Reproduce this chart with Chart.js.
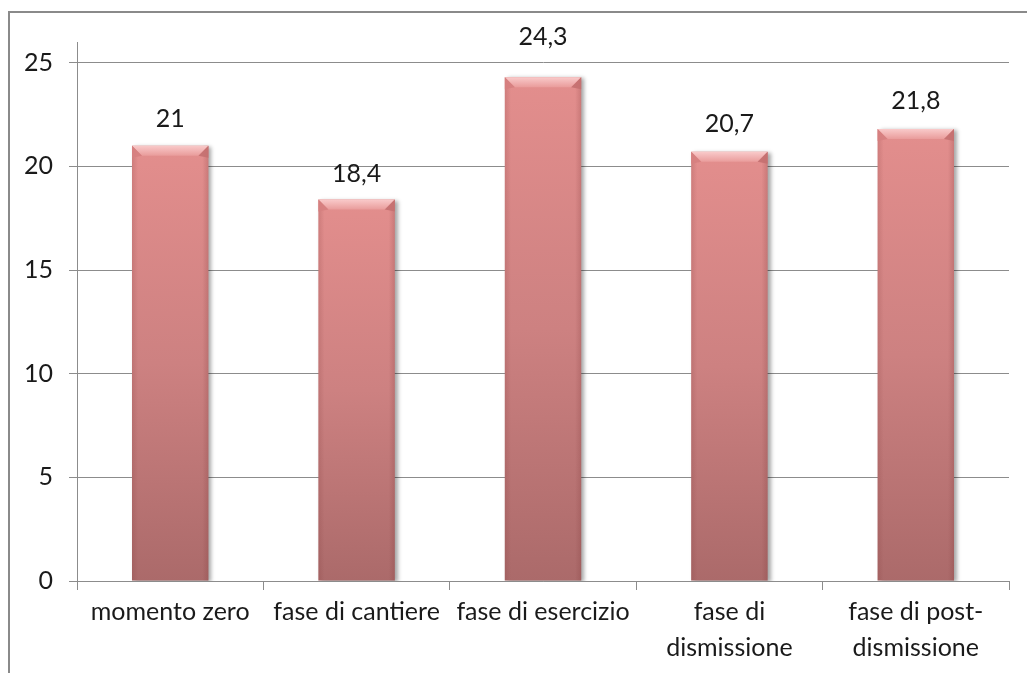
<!DOCTYPE html>
<html lang="it">
<head>
    <meta charset="UTF-8">
    <title>Grafico fasi</title>
    <script src="https://cdn.jsdelivr.net/npm/chart.js"></script>
    <style>
        html, body { margin: 0; padding: 0; background: #fff; }
        #wrap { width: 1027px; height: 673px; }
    </style>
</head>
<body>
    <div id="wrap"><canvas id="phaseChart"></canvas></div>

    <script>
        // Data
        const categories = [
            "momento zero",
            "fase di cantiere",
            "fase di esercizio",
            ["fase di", "dismissione"],
            ["fase di post-", "dismissione"]
        ];
        const values = [21, 18.4, 24.3, 20.7, 21.8];
        const valueLabels = ["21", "18,4", "24,3", "20,7", "21,8"];
        const yTicks = [0, 5, 10, 15, 20, 25];

        const FONT = "Lato, 'Open Sans', sans-serif";
        const GRID = "#8c8c8c";

        // per-bar vertical gradient, light on top, darker at the base
        function barFill(c) {
            const chart = c.chart;
            const y = chart.scales.y;
            if (!y) return "#d08080";
            const top = y.getPixelForValue(c.raw);
            const base = y.getPixelForValue(0);
            if (!isFinite(top) || !isFinite(base)) return "#d08080";
            const g = chart.ctx.createLinearGradient(0, top, 0, base);
            g.addColorStop(0, "#e38e8d");
            g.addColorStop(0.5, "#cd8181");
            g.addColorStop(1, "#ab6a6a");
            return g;
        }

        const framePlugin = {
            id: "frame",
            beforeDraw(chart) {
                const ctx = chart.ctx;
                ctx.save();
                ctx.strokeStyle = "#8a8a8a";
                ctx.lineWidth = 2;
                ctx.strokeRect(9, 12, chart.width + 40, chart.height + 40);
                ctx.restore();
            }
        };

        const barLook = {
            id: "barLook",
            beforeDatasetsDraw(chart) {
                const ctx = chart.ctx;
                ctx.save();
                ctx.shadowColor = "rgba(0,0,0,0.35)";
                ctx.shadowBlur = 4;
                ctx.shadowOffsetX = 3;
                ctx.shadowOffsetY = 1;
            },
            afterDatasetsDraw(chart, args, opts) {
                const ctx = chart.ctx;
                ctx.restore();
                const meta = chart.getDatasetMeta(0);
                meta.data.forEach((bar, i) => {
                    const l = bar.x - bar.width / 2;
                    const r = bar.x + bar.width / 2;
                    const t = bar.y;
                    const b = bar.base;
                    const bev = 10;

                    // side shading
                    ctx.save();
                    let sg = ctx.createLinearGradient(l, 0, r, 0);
                    sg.addColorStop(0, "rgba(120,50,50,0.18)");
                    sg.addColorStop(0.08, "rgba(120,50,50,0)");
                    sg.addColorStop(0.92, "rgba(120,50,50,0)");
                    sg.addColorStop(1, "rgba(120,50,50,0.22)");
                    ctx.fillStyle = sg;
                    ctx.fillRect(l, t, r - l, b - t);

                    // top bevel
                    ctx.beginPath();
                    ctx.moveTo(l, t);
                    ctx.lineTo(r, t);
                    ctx.lineTo(r - bev, t + bev);
                    ctx.lineTo(l + bev, t + bev);
                    ctx.closePath();
                    let tg = ctx.createLinearGradient(0, t, 0, t + bev);
                    tg.addColorStop(0, "#f9caca");
                    tg.addColorStop(1, "#e99c9b");
                    ctx.fillStyle = tg;
                    ctx.fill();

                    // bevel side corners
                    ctx.beginPath();
                    ctx.moveTo(l, t);
                    ctx.lineTo(l + bev, t + bev);
                    ctx.lineTo(l, t + bev + 2);
                    ctx.closePath();
                    ctx.fillStyle = "rgba(214,128,128,0.9)";
                    ctx.fill();
                    ctx.beginPath();
                    ctx.moveTo(r, t);
                    ctx.lineTo(r - bev, t + bev);
                    ctx.lineTo(r, t + bev + 2);
                    ctx.closePath();
                    ctx.fillStyle = "rgba(196,112,112,0.9)";
                    ctx.fill();
                    ctx.restore();

                    // value label
                    const off = (opts.offsets && opts.offsets[i]) || 27;
                    ctx.save();
                    ctx.font = "25px " + FONT;
                    ctx.fillStyle = "#1a1a1a";
                    ctx.textAlign = "center";
                    ctx.textBaseline = "middle";
                    ctx.fillText(valueLabels[i], bar.x, t - off);
                    ctx.restore();
                });
            }
        };

        const ctx = document.getElementById("phaseChart").getContext("2d");
        new Chart(ctx, {
            type: "bar",
            data: {
                labels: categories,
                datasets: [{
                    data: values,
                    backgroundColor: barFill,
                    borderWidth: 0,
                    categoryPercentage: 1,
                    barPercentage: 0.41
                }]
            },
            options: {
                responsive: true,
                maintainAspectRatio: false,
                animation: false,
                events: [],
                layout: { padding: { top: 42, right: 18, left: 0, bottom: 0 } },
                plugins: {
                    legend: { display: false },
                    tooltip: { enabled: false },
                    barLook: { offsets: [27, 26, 40, 28, 28] }
                },
                scales: {
                    x: {
                        grid: {
                            offset: true,
                            drawOnChartArea: false,
                            drawTicks: true,
                            tickLength: 9,
                            color: GRID
                        },
                        border: { color: GRID, width: 1 },
                        ticks: {
                            color: "#1a1a1a",
                            font: { family: FONT, size: 25, lineHeight: 1.44 },
                            padding: 4,
                            maxRotation: 0,
                            autoSkip: false
                        },
                        afterFit(s) { s.height = 92; }
                    },
                    y: {
                        min: 0,
                        max: 26,
                        afterBuildTicks(s) { s.ticks = yTicks.map(v => ({ value: v })); },
                        grid: {
                            color: GRID,
                            tickLength: 8,
                            drawTicks: true
                        },
                        border: { color: GRID, width: 1 },
                        ticks: {
                            color: "#1a1a1a",
                            font: { family: FONT, size: 25 },
                            padding: 16
                        },
                        afterFit(s) { s.width = 77; }
                    }
                }
            },
            plugins: [framePlugin, barLook]
        });
    </script>
</body>
</html>
